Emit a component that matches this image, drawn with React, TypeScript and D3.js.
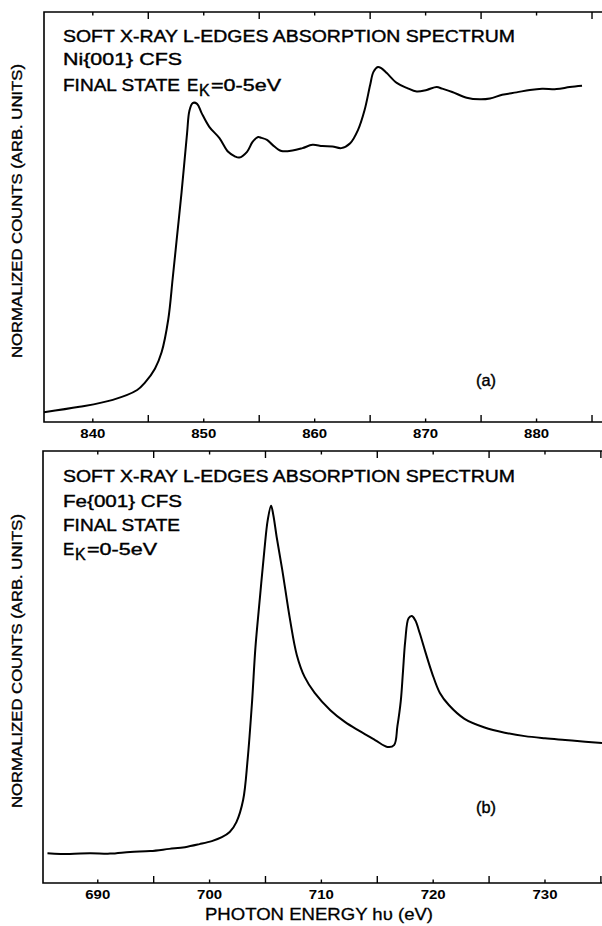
import React from 'react';
import * as d3 from 'd3';

// Ni L-edges spectrum (panel a), photon energy in eV, counts in arbitrary units
const NI_ENERGY = [
  835.6, 838.8, 841.8, 844.0, 844.7, 845.6, 846.2, 846.8, 847.2, 847.6, 848.0, 848.5, 848.7, 849.0,
  849.4, 849.8, 850.5, 851.4, 852.2, 852.8, 853.2, 853.9, 854.4, 854.9, 855.2, 855.7, 856.2, 857.0,
  858.0, 858.9, 859.8, 860.7, 861.6, 862.4, 863.2, 863.9, 864.5, 865.0, 865.3, 865.7, 866.0, 866.5,
  867.4, 868.3, 869.2, 870.1, 871.0, 871.5, 872.4, 873.7, 874.9, 875.8, 876.9, 878.2, 879.4, 880.5,
  881.8, 883.0, 884.1,
];
const NI_COUNTS = [
  2.4, 3.7, 5.4, 7.8, 9.6, 13.0, 17.0, 25.0, 35.0, 45.5, 56.0, 70.5, 75.8, 77.8,
  77.6, 75.4, 72.0, 69.3, 65.9, 64.8, 64.5, 65.9, 68.3, 69.5, 69.3, 68.8, 67.6, 66.1,
  66.2, 66.8, 67.6, 67.3, 67.2, 66.8, 68.0, 71.2, 76.1, 82.2, 85.4, 86.6, 86.3, 85.1,
  82.7, 81.5, 80.6, 81.0, 81.7, 81.3, 80.5, 79.1, 78.7, 78.9, 79.8, 80.4, 81.0, 81.3,
  81.2, 81.7, 82.0,
];

// Fe L-edges spectrum (panel b)
const FE_ENERGY = [
  685.5, 687.5, 689.3, 691.1, 692.9, 694.7, 696.4, 697.8, 699.1, 700.2, 701.1, 701.8, 702.4, 703.0,
  703.4, 703.8, 704.1, 704.5, 704.9, 705.2, 705.5, 705.7, 706.0, 706.5, 707.2, 707.8, 708.5, 709.4,
  710.8, 712.1, 713.4, 714.8, 715.9, 716.5, 716.8, 717.1, 717.3, 717.5, 717.8, 718.1, 718.4, 718.8,
  719.3, 719.9, 720.6, 721.4, 722.8, 724.6, 726.4, 728.2, 730.0, 731.8, 733.6, 735.1,
];
const FE_COUNTS = [
  6.9, 6.7, 6.9, 6.8, 7.2, 7.4, 7.9, 8.3, 9.0, 9.7, 10.6, 11.8, 14.1, 19.2,
  28.5, 42.0, 54.5, 66.0, 77.0, 84.0, 87.3, 85.2, 80.1, 72.5, 60.9, 52.8, 47.7, 44.0,
  40.0, 37.3, 35.2, 33.1, 31.5, 31.9, 36.3, 42.1, 49.0, 56.0, 61.3, 61.8, 60.8, 57.8,
  53.5, 48.6, 44.0, 41.2, 38.0, 36.0, 34.8, 34.0, 33.5, 33.1, 32.7, 32.4,
];

const NI_TICKS = [840, 845, 850, 855, 860, 865, 870, 875, 880, 885];
const FE_TICKS = [690, 695, 700, 705, 710, 715, 720, 725, 730, 735];
const TITLE = 'SOFT X-RAY L-EDGES ABSORPTION SPECTRUM';
const Y_LABEL = 'NORMALIZED COUNTS (ARB. UNITS)';

const FONT = '"Liberation Sans", Arial, sans-serif';

type PanelProps = {
  energy: number[];
  counts: number[];
  ticks: number[];
  xDomain: [number, number];
  left: number;
  right: number;
  top: number;
  bottom: number;
  children?: React.ReactNode;
};

const Panel = ({ energy, counts, ticks, xDomain, left, right, top, bottom, children }: PanelProps) => {
  const x = d3.scaleLinear().domain(xDomain).range([left, right]);
  const y = d3.scaleLinear().domain([0, 100]).range([bottom, top]);
  const pts = energy.map((e, i) => [e, counts[i]] as [number, number]);
  const line = d3
    .line<[number, number]>()
    .x((d) => x(d[0]))
    .y((d) => y(d[1]))
    .curve(d3.curveCatmullRom.alpha(0.5));

  return (
    <g>
      {/* frame: left, bottom and top, the right side runs off the page */}
      <path
        d={`M${right},${top}H${left}V${bottom}H${right}`}
        fill="none"
        stroke="#000"
        strokeWidth={1.6}
      />
      {ticks.map((t) => {
        const major = t % 10 !== 0;
        const len = major ? 7 : 3.5;
        return (
          <g key={t}>
            <line x1={x(t)} x2={x(t)} y1={bottom} y2={bottom - len} stroke="#000" strokeWidth={1.4} />
            <line x1={x(t)} x2={x(t)} y1={top} y2={top + len} stroke="#000" strokeWidth={1.4} />
            {!major && (
              <text
                x={x(t)}
                y={bottom + 15.5}
                textAnchor="middle"
                fontSize={12.5}
                fontFamily={FONT}
                fontWeight="bold"
                textLength={25}
                lengthAdjust="spacingAndGlyphs"
              >
                {t}
              </text>
            )}
          </g>
        );
      })}
      <text
        transform={`translate(22,${(top + bottom) / 2 - 6}) rotate(-90)`}
        textAnchor="middle"
        fontSize={14.5}
        fontFamily={FONT}
        stroke="#000"
        strokeWidth={0.35}
        textLength={294}
        lengthAdjust="spacingAndGlyphs"
      >
        {Y_LABEL}
      </text>
      <path d={line(pts) ?? ''} fill="none" stroke="#000" strokeWidth={2} strokeLinejoin="round" />
      {children}
    </g>
  );
};

const txt = (x: number, y: number, s: string, len?: number, size = 17) => (
  <text
    x={x}
    y={y}
    fontSize={size}
    fontFamily={FONT}
    stroke="#000"
    strokeWidth={0.4}
    textLength={len}
    lengthAdjust={len ? 'spacingAndGlyphs' : undefined}
  >
    {s}
  </text>
);

// E with subscript K, then "=0-5eV"
const Ek = ({ x, y }: { x: number; y: number }) => (
  <g>
    {txt(x, y, 'E')}
    {txt(x + 12, y + 5, 'K', undefined, 16)}
    {txt(x + 24, y, '=0-5eV', 70)}
  </g>
);

export default function App() {
  return (
    <svg
      width={602}
      height={926}
      style={{ position: 'absolute', left: 0, top: 0, background: '#fff' }}
    >
      <rect width={602} height={926} fill="#fff" />
      <Panel
        energy={NI_ENERGY}
        counts={NI_COUNTS}
        ticks={NI_TICKS}
        xDomain={[835.6, 885.9]}
        left={44}
        right={602}
        top={12}
        bottom={422}
      >
        {txt(63, 42, TITLE, 452)}
        {txt(63, 65, 'Ni{001} CFS', 119)}
        {txt(63, 91, 'FINAL STATE', 117)}
        <Ek x={187} y={91} />
        {txt(476, 386, '(a)', 20)}
      </Panel>
      <Panel
        energy={FE_ENERGY}
        counts={FE_COUNTS}
        ticks={FE_TICKS}
        xDomain={[685.1, 735.1]}
        left={43}
        right={602}
        top={451}
        bottom={883}
      >
        {txt(63, 482, TITLE, 452)}
        {txt(63, 507, 'Fe{001} CFS', 119)}
        {txt(63, 531, 'FINAL STATE', 117)}
        <Ek x={63} y={555} />
        {txt(476, 813, '(b)', 20)}
      </Panel>
      <text
        x={319}
        y={920}
        textAnchor="middle"
        fontSize={16.5}
        fontFamily={FONT}
        stroke="#000"
        strokeWidth={0.3}
        textLength={228}
        lengthAdjust="spacingAndGlyphs"
      >
        PHOTON ENERGY hυ (eV)
      </text>
    </svg>
  );
}
